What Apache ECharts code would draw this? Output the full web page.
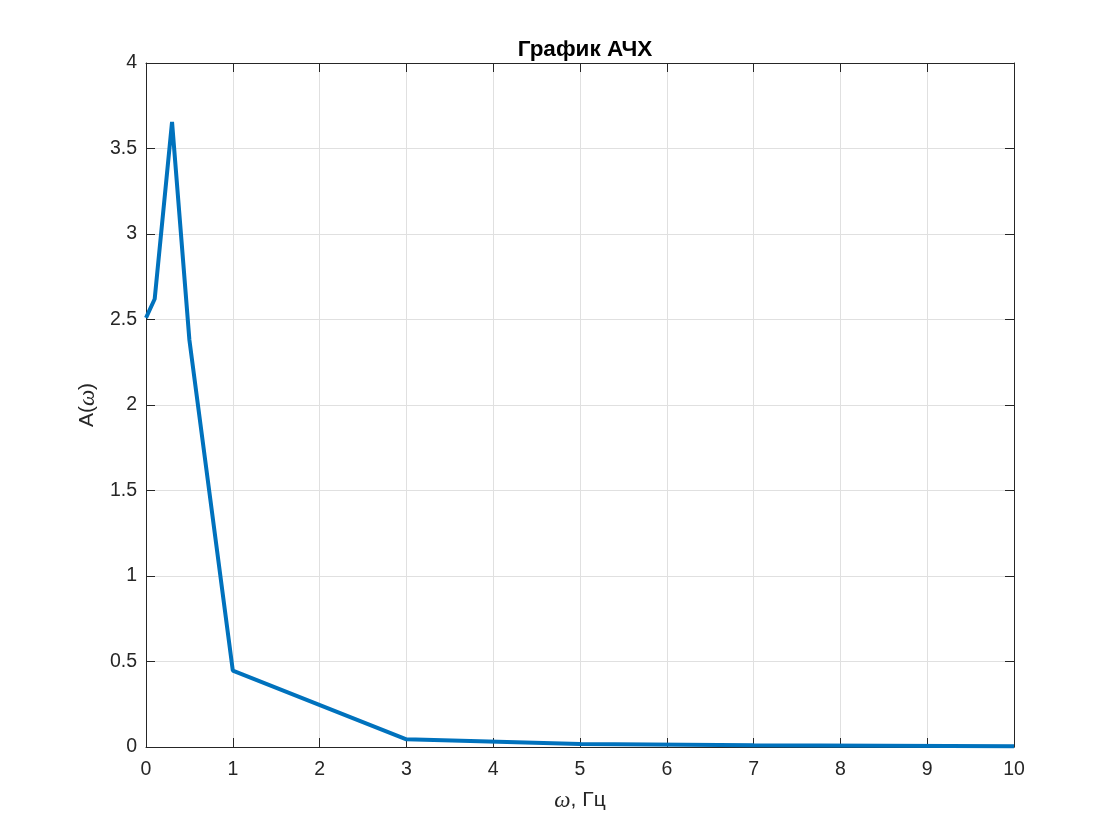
<!DOCTYPE html>
<html><head><meta charset="utf-8">
<script src="https://cdn.jsdelivr.net/npm/echarts@6/dist/echarts.min.js"></script>
<style>html,body{margin:0;padding:0;background:#fff}#c{width:1120px;height:840px}</style>
</head><body><div id="c"></div>
<script>
const omega = [0, 0.1, 0.3, 0.5, 1, 3, 5, 7, 10];
const amplitude = [2.51, 2.62, 3.655, 2.38, 0.447, 0.045, 0.017, 0.01, 0.004];
const titleText = 'График АЧХ';

const chart = echarts.init(document.getElementById('c'));
const font = 'Liberation Sans, Arial, sans-serif';
const serif = 'Liberation Serif, DejaVu Serif, serif';
const axisCommon = {
  min: 0,
  axisLine: {show: true, onZero: false, lineStyle: {color: '#262626', width: 1}},
  axisTick: {show: true, inside: true, length: 9, lineStyle: {color: '#262626'}},
};
chart.setOption({
  animation: false,
  title: {text: titleText, left: 580, top: 33, textAlign: 'center',
    textStyle: {fontFamily: font, fontSize: 22.5, fontWeight: 'bold', color: '#000'}},
  grid: {left: 146, right: 106, top: 63, bottom: 93, containLabel: false},
  xAxis: [
    Object.assign({}, axisCommon, {type: 'value', max: 10, interval: 1, position: 'bottom',
      name: '{w|ω}{n|, Гц}', nameLocation: 'middle', nameGap: 42,
      nameTextStyle: {rich: {
        n: {fontFamily: font, fontSize: 21, color: '#262626'},
        w: {fontFamily: serif, fontStyle: 'italic', fontSize: 23, color: '#262626'}
      }},
      axisLabel: {fontFamily: font, fontSize: 19.5, color: '#262626', margin: 13},
      splitLine: {show: true, lineStyle: {color: '#e0e0e0', width: 1}}}),
    Object.assign({}, axisCommon, {type: 'value', max: 10, interval: 1, position: 'top',
      axisLabel: {show: false}, splitLine: {show: false}})
  ],
  yAxis: [
    Object.assign({}, axisCommon, {type: 'value', max: 4, interval: 0.5, position: 'left',
      name: '{n|A(}{w|ω}{n|)}', nameLocation: 'middle', nameGap: 44, nameRotate: 90,
      nameTextStyle: {rich: {
        n: {fontFamily: font, fontSize: 21, color: '#262626'},
        w: {fontFamily: serif, fontStyle: 'italic', fontSize: 23, color: '#262626'}
      }},
      axisLabel: {fontFamily: font, fontSize: 19.5, color: '#262626', margin: 9},
      splitLine: {show: true, lineStyle: {color: '#e0e0e0', width: 1}}}),
    Object.assign({}, axisCommon, {type: 'value', max: 4, interval: 0.5, position: 'right',
      axisLabel: {show: false}, splitLine: {show: false}})
  ],
  series: [{
    type: 'line', xAxisIndex: 0, yAxisIndex: 0,
    data: omega.map((w, i) => [w, amplitude[i]]),
    showSymbol: false, symbol: 'none',
    lineStyle: {color: '#0072BD', width: 4},
    z: 5
  }]
});
</script></body></html>
